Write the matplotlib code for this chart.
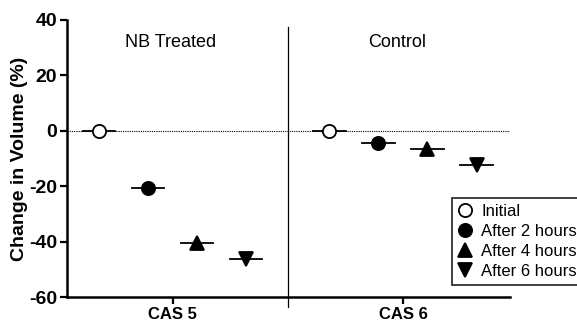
import matplotlib
matplotlib.use("Agg")
import matplotlib.pyplot as plt
from matplotlib.lines import Line2D

plt.rcParams['font.family'] = ['Liberation Sans', 'DejaVu Sans']

groups = ["CAS 5", "CAS 6"]
group_titles = ["NB Treated", "Control"]
timepoints = ["Initial", "After 2 hours", "After 4 hours", "After 6 hours"]
cas5_values = [0, -20.5, -40.5, -46.3]
cas6_values = [0, -4.5, -6.7, -12.3]

markers = ["o", "o", "^", "v"]
faces = ["white", "black", "black", "black"]
offsets = [-1.5, -0.5, 0.5, 1.5]
step = 0.213
half = 0.07

fig = plt.figure(figsize=(5.77, 3.22), dpi=100)
ax = fig.add_axes([67 / 577, 1 - 297 / 322, (510 - 67) / 577, (297 - 20) / 322])

title_shift = [-0.01, -0.026]
for gi, vals in enumerate([cas5_values, cas6_values]):
    for k, v in enumerate(vals):
        x = gi + offsets[k] * step
        ax.plot([x - half, x + half], [v, v], color="black", lw=1.3, zorder=2)
        ax.plot(x, v, marker=markers[k], ms=9.5,
                mfc=faces[k], mec="black", mew=1.3, ls="none", zorder=3)
    ax.text(gi + title_shift[gi], 32, group_titles[gi], ha="center", va="center",
            fontsize=13)

ax.axhline(0, color="black", ls=(0, (1, 1)), lw=0.8, zorder=1)
# divider runs a little past the bottom axis
ax.plot([0.5, 0.5], [37.5, -63.6], color="black", lw=0.9, clip_on=False)

ax.set_xlim(-0.46, 1.465)
ax.set_ylim(-60, 40)
ax.set_xticks([0, 1])
ax.set_xticklabels(groups, fontweight="bold", fontsize=12)
ax.set_yticks([-60, -40, -20, 0, 20, 40])
ax.set_yticklabels([str(t) for t in [-60, -40, -20, 0, 20, 40]],
                   fontweight="bold", fontsize=14)
ax.set_ylabel("Change in Volume (%)", fontweight="bold", fontsize=14, labelpad=1)
ax.tick_params(axis="both", width=1.6, length=5, direction="out", pad=2)
for s in ["top", "right"]:
    ax.spines[s].set_visible(False)
for s in ["left", "bottom"]:
    ax.spines[s].set_linewidth(1.8)

handles = [Line2D([], [], marker=m, mfc=f, mec="black", mew=1.3, ls="none",
                  ms=9.5)
           for m, f in zip(markers, faces)]
leg = fig.legend(handles, timepoints, loc="lower left",
                 bbox_to_anchor=(452 / 577, 37 / 322), fontsize=12,
                 frameon=True, fancybox=False, edgecolor="black",
                 handlelength=0.9, handletextpad=0.5, borderpad=0.35,
                 labelspacing=0.3, borderaxespad=0)
leg.get_frame().set_linewidth(1.3)

fig.savefig("out.png", dpi=100)
